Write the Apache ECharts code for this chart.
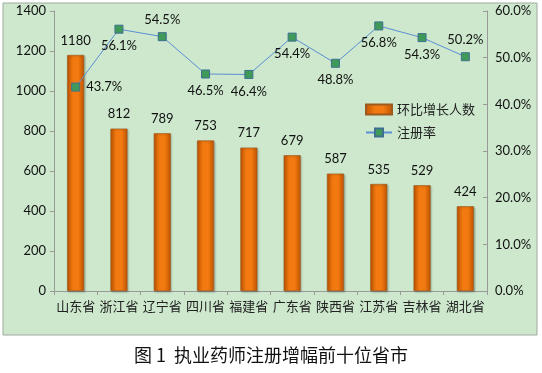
<!DOCTYPE html>
<html><head><meta charset="utf-8">
<script src="https://cdn.jsdelivr.net/npm/echarts@6/dist/echarts.min.js"></script>
<style>html,body{margin:0;padding:0;background:#fff}#c{width:542px;height:373px}</style>
</head><body><div id="c"></div>
<script>
const categories = ['山东省','浙江省','辽宁省','四川省','福建省','广东省','陕西省','江苏省','吉林省','湖北省'];
const growth = [1180, 812, 789, 753, 717, 679, 587, 535, 529, 424];
const rate = [0.437, 0.561, 0.545, 0.465, 0.464, 0.544, 0.488, 0.568, 0.543, 0.502];
const leftTicks = {min: 0, max: 1400, interval: 200};
const rightTicks = {min: 0, max: 0.6, interval: 0.1};
const ratePos = ['right','bottom','top','bottom','bottom','bottom','bottom','bottom','bottom','top'];

const chart = echarts.init(document.getElementById('c'));
const numFont = 'Lato, "Open Sans", sans-serif';
const cjk = '"Noto Sans CJK SC", sans-serif';
chart.setOption({
  animation: false,
  graphic: [
    {type:'rect', shape:{x:3,y:3,width:534,height:332}, style:{fill:'#cde8cd', stroke:'#a0a8a0', lineWidth:1}, z:-10},
    {type:'text', left:'center', top:346, style:{text:'图 1  执业药师注册增幅前十位省市', font:'18px "Noto Sans CJK SC", serif', fill:'#111'}}
  ],
  grid: {left: 54, right: 55, top: 11, bottom: 82},
  legend: {
    orient: 'vertical', left: 360, top: 98, itemGap: 10, itemWidth: 26, itemHeight: 10,
    textStyle: {fontFamily: cjk, fontSize: 13, color: '#222'},
    data: [{name:'环比增长人数', icon:'rect'}, {name:'注册率'}]
  },
  xAxis: {
    type: 'category', data: categories,
    axisLine: {lineStyle: {color: '#9a9a9a'}},
    axisTick: {show: true, length: 4, lineStyle: {color: '#9a9a9a'}},
    axisLabel: {fontFamily: cjk, fontSize: 13, color: '#222', margin: 9, interval: 0}
  },
  yAxis: [
    {type: 'value', min: leftTicks.min, max: leftTicks.max, interval: leftTicks.interval,
     axisLine: {show: true, lineStyle: {color: '#9a9a9a'}},
     axisTick: {show: true, length: 4, lineStyle: {color: '#9a9a9a'}},
     splitLine: {show: false},
     axisLabel: {fontFamily: numFont, fontSize: 13, color: '#111', margin: 8, formatter: v => String(v)}},
    {type: 'value', min: rightTicks.min, max: rightTicks.max, interval: rightTicks.interval, position: 'right',
     axisLine: {show: true, lineStyle: {color: '#9a9a9a'}},
     axisTick: {show: true, length: 4, inside: true, lineStyle: {color: '#9a9a9a'}},
     splitLine: {show: false},
     axisLabel: {fontFamily: numFont, fontSize: 13, color: '#111', margin: 8,
       formatter: v => (v*100).toFixed(1) + '%'}}
  ],
  series: [
    {name: '环比增长人数', type: 'bar', data: growth, barWidth: 17, yAxisIndex: 0,
     itemStyle: {
       color: new echarts.graphic.LinearGradient(0,0,1,0,[
         {offset:0, color:'#c05400'},{offset:0.35, color:'#f27a10'},{offset:0.65, color:'#f27a10'},{offset:1, color:'#c05400'}]),
       borderColor: '#9a5a20', borderWidth: 0.6,
       shadowColor: 'rgba(0,0,0,0.25)', shadowBlur: 2, shadowOffsetX: 1, shadowOffsetY: 1
     },
     label: {show: true, position: 'top', distance: 8, fontFamily: numFont, fontSize: 13, color: '#111'}},
    {name: '注册率', type: 'line', yAxisIndex: 1,
     data: rate.map((v, i) => ({value: v, label: {position: ratePos[i]}})),
     symbol: 'rect', symbolSize: 8,
     lineStyle: {color: '#5b8fd4', width: 1},
     itemStyle: {color: '#3f9a5a', borderColor: '#3f6f8f', borderWidth: 1},
     label: {show: true, distance: 6, fontFamily: numFont, fontSize: 13, color: '#111',
       formatter: p => (p.value*100).toFixed(1) + '%'}}
  ]
});
</script></body></html>
